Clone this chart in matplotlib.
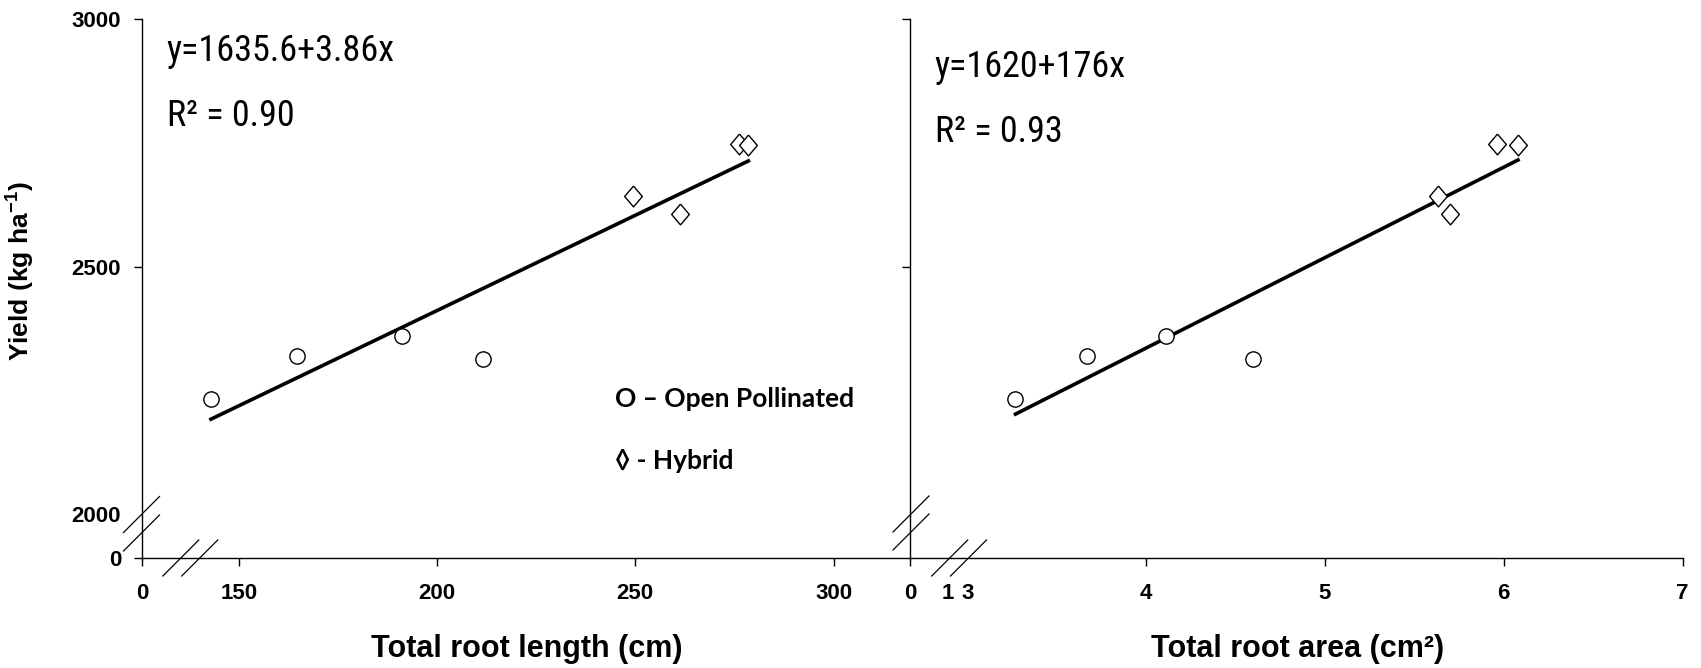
import matplotlib
matplotlib.use("Agg")
import matplotlib.pyplot as plt
from matplotlib.lines import Line2D
import numpy as np

plt.rcParams["mathtext.fontset"] = "custom"
plt.rcParams["mathtext.rm"] = "Liberation Sans"
plt.rcParams["mathtext.bf"] = "Liberation Sans:bold"

# Yield vs total root length / total root area, 4 open pollinated + 4 hybrid varieties

yield_op = [2232, 2320, 2360, 2314]
yield_hy = [2642, 2607, 2747, 2745]
length_op = [143.0, 164.8, 191.1, 211.5]
length_hy = [249.3, 261.3, 276.1, 278.5]
area_op = [3.27, 3.67, 4.11, 4.60]
area_hy = [5.63, 5.70, 5.96, 6.08]

eq_texts = ["y=1635.6+3.86x", "y=1620+176x"]
r2_texts = ["R\u00b2 = 0.90", "R\u00b2 = 0.93"]

len_ticks = [150, 200, 250, 300]
area_ticks = [4, 5, 6, 7]
yield_ticks = [2000, 2500, 3000]

W, H = 1701, 668
fig = plt.figure(figsize=(W / 100, H / 100), dpi=100)

narrow = ["Roboto Condensed", "Liberation Sans"]

# axes boxes in pixels
x_axis_y = 557.7
top_y = 19
axL = fig.add_axes([142 / W, (H - x_axis_y) / H, (910 - 142) / W, (x_axis_y - top_y) / H])
axR = fig.add_axes([910 / W, (H - x_axis_y) / H, (1682.5 - 910) / W, (x_axis_y - top_y) / H])

# broken axes: the gap below 2000 (and below 150 / 3) is squeezed
y0 = 2000 - (x_axis_y - 514.4) / (247.7 / 500)
xl0 = 150 - (238.7 - 142) / (198.3 / 50)
xl1 = 150 + (910 - 238.7) / (198.3 / 50)
xr0 = 4 - (1146 - 910) / 178.8

for ax in (axL, axR):
    ax.set_ylim(y0, 3000)
    for s in ("top", "right"):
        ax.spines[s].set_visible(False)
    for s in ("left", "bottom"):
        ax.spines[s].set_linewidth(1.0)
    ax.tick_params(direction="out", length=6, width=1.0)
    ax.set_facecolor("none")

axL.set_xlim(xl0, xl1)
axR.set_xlim(xr0, 7)

axL.set_xticks([xl0] + len_ticks, ["0"] + [str(t) for t in len_ticks])
axL.set_yticks([y0] + yield_ticks, ["0"] + [str(t) for t in yield_ticks])
axL.tick_params(axis="x", pad=12)
axL.tick_params(axis="y", pad=9)
axL.yaxis.get_major_ticks()[1].tick1line.set_visible(False)

axR.set_xticks([xr0, 2.89, 3] + area_ticks, ["0", "1", "3"] + [str(t) for t in area_ticks])
axR.set_yticks(yield_ticks[1:], ["", ""])
axR.tick_params(axis="x", pad=12)
for t in axR.xaxis.get_major_ticks()[1:3]:
    t.tick1line.set_visible(False)

for ax in (axL, axR):
    for lab in ax.get_xticklabels() + ax.get_yticklabels():
        lab.set_fontfamily("Liberation Sans")
        lab.set_fontweight("bold")
        lab.set_fontsize(16)

diamond = [(0, 1), (0.85, 0), (0, -1), (-0.85, 0), (0, 1)]

panels = [
    (axL, length_op, length_hy, 0, 0.9406, 0.820),
    (axR, area_op, area_hy, 1, 0.911, 0.790),
]
for ax, xo, xh, i, eq_y, r2_y in panels:
    ax.plot(xo, yield_op, "o", ms=11, mfc="white", mec="black", mew=1.0, zorder=3)
    ax.plot(xh, yield_hy, marker=diamond, ls="none", ms=15, mfc="white", mec="black",
            mew=1.0, zorder=3)
    xs = np.array(xo + xh)
    slope, icpt = np.polyfit(xs, np.array(yield_op + yield_hy), 1)
    xl = np.array([xs.min(), xs.max()])
    ax.plot(xl, icpt + slope * xl, color="black", lw=2.6, zorder=2)
    ax.text(0.032, eq_y, eq_texts[i], transform=ax.transAxes, fontsize=26, family=narrow,
            va="center", ha="left")
    ax.text(0.032, r2_y, r2_texts[i], transform=ax.transAxes, fontsize=26, family=narrow,
            va="center", ha="left")

axL.text(0.616, 0.2946, "O \u2013 Open Pollinated", transform=axL.transAxes, fontsize=19,
         family=["Lato", "DejaVu Sans"], fontweight="bold", va="center", ha="left")
axL.text(0.616, 0.1794, "\u25ca - Hybrid", transform=axL.transAxes, fontsize=19,
         family=["Lato", "DejaVu Sans"], fontweight="bold", va="center", ha="left")

lab_kw = dict(family="Liberation Sans", fontweight="bold")
axL.set_xlabel("Total root length (cm)", va="center", fontsize=22, **lab_kw)
axL.xaxis.set_label_coords(0.501, -0.1695)
axR.set_xlabel("Total root area (cm\u00b2)", va="center", fontsize=22, **lab_kw)
axR.xaxis.set_label_coords(0.5016, -0.1695)
axL.set_ylabel("Yield (kg ha$^{\\mathbf{-1}}$)", va="center", fontsize=19, **lab_kw)
axL.yaxis.set_label_coords(-0.1595, 0.532)


# axis break marks (pixel centres), short 45 degree slashes
def slash(cx, cy, h=18):
    fig.add_artist(Line2D([(cx - h) / W, (cx + h) / W], [(H - cy - h) / H, (H - cy + h) / H],
                          transform=fig.transFigure, color="black", lw=0.9))


for cx, cy in [(141.5, 514.5), (141.5, 533), (180.8, 558), (199.7, 558),
               (911, 514), (911, 532), (949.7, 558), (968.5, 558)]:
    slash(cx, cy)

fig.savefig("out.png", dpi=100)
